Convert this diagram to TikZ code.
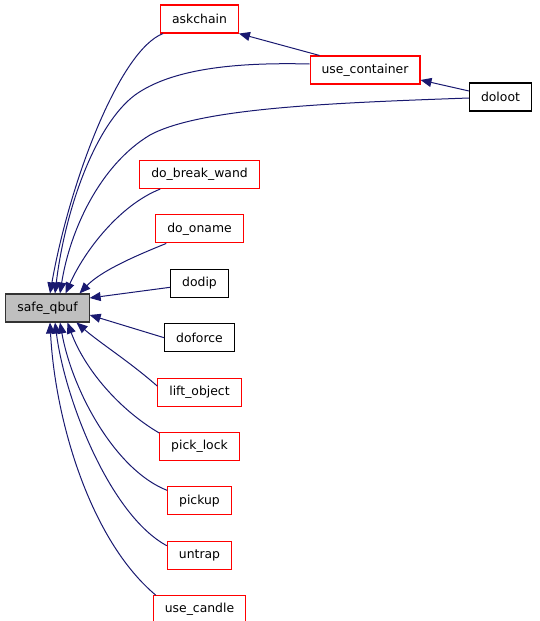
\documentclass[tikz,border=0pt]{standalone}
\usepackage{fontspec}
\setmainfont{DejaVu Sans}
\usepackage{tikz}
\usetikzlibrary{arrows.meta, positioning}
\definecolor{edgeblue}{RGB}{25,25,112}
\definecolor{fnred}{RGB}{255,0,0}
\definecolor{curgray}{RGB}{191,191,191}
\tikzset{
  fnbox/.style={rectangle,draw=fnred,fill=white,minimum height=28pt,inner xsep=11.5pt,
    inner ysep=0pt,font=\fontsize{12.4}{14}\selectfont,line width=1.1pt},
  leafbox/.style={fnbox,draw=black},
  curbox/.style={fnbox,draw=black!80,fill=curgray},
  arrow/.style={-{Triangle[length=11pt,width=9pt]},line width=1pt,color=edgeblue}
}

\begin{document}
\begin{tikzpicture}[x=1pt,y=-1pt,node distance=25.3pt]
  \useasboundingbox (0,0) rectangle (539,621);
  \node[curbox] (qbuf) at (47.5,308) {safe\_qbuf};
  \node[fnbox] (askchain) at (199.5,19) {askchain};
  \node[fnbox] (usecont) at (365,70) {use\_container};
  \node[leafbox] (doloot) at (500.5,97) {doloot};
  \node[fnbox] (breakwand) at (199.5,174.5) {do\_break\_wand};
  \node[fnbox, below=of breakwand] (oname) {do\_oname};
  \node[leafbox, below=of oname] (dodip) {dodip};
  \node[leafbox, below=of dodip] (doforce) {doforce};
  \node[fnbox, below=of doforce] (liftobj) {lift\_object};
  \node[fnbox, below=of liftobj] (picklock) {pick\_lock};
  \node[fnbox, below=of picklock] (pickup) {pickup};
  \node[fnbox, below=of pickup] (untrap) {untrap};
  \node[fnbox, below=of untrap] (candle) {use\_candle};

  % callers of use_container and askchain
  \draw[arrow] ([yshift=6pt]doloot.west) -- ([yshift=-10pt]usecont.east);
  \draw[arrow] ([xshift=10pt]usecont.north west) -- (askchain.south east);

  % upper callers
  \draw[arrow] ([xshift=3pt]askchain.south west) .. controls (120,50) and (70,180) .. ([xshift=2.5pt]qbuf.north);
  \draw[arrow] ([yshift=6pt]usecont.west) .. controls (230,62) and (170,70) .. (135,95)
    .. controls (95,125) and (65,210) .. ([xshift=7.5pt]qbuf.north);
  \draw[arrow] ([yshift=-1pt]doloot.west) .. controls (330,103) and (200,108) .. (150,135)
    .. controls (100,165) and (70,230) .. ([xshift=12.5pt]qbuf.north);
  \draw[arrow] ([xshift=21pt]breakwand.south west) .. controls (120,205) and (85,250) .. ([xshift=18pt]qbuf.north);
  \draw[arrow] ([xshift=11pt]oname.south west) .. controls (130,258) and (100,272) .. ([xshift=32pt]qbuf.north);
  \draw[arrow] ([yshift=-4pt]dodip.west) -- ([yshift=10pt]qbuf.east);
  \draw[arrow] (doforce.west) -- ([yshift=-7pt]qbuf.east);

  % lower callers
  \draw[arrow] ([yshift=6pt]liftobj.west) .. controls (130,362) and (100,343) .. ([xshift=29pt]qbuf.south);
  \draw[arrow] ([yshift=-1pt]picklock.north west) .. controls (120,410) and (85,370) .. ([xshift=20pt]qbuf.south);
  \draw[arrow] ([yshift=-4pt]pickup.north west) .. controls (115,470) and (72,390) .. ([xshift=12.5pt]qbuf.south);
  \draw[arrow] ([yshift=-5pt]untrap.north west) .. controls (110,515) and (65,400) .. ([xshift=7.5pt]qbuf.south);
  \draw[arrow] ([xshift=3pt]candle.north west) .. controls (90,540) and (55,420) .. ([xshift=2.5pt]qbuf.south);
\end{tikzpicture}
\end{document}
